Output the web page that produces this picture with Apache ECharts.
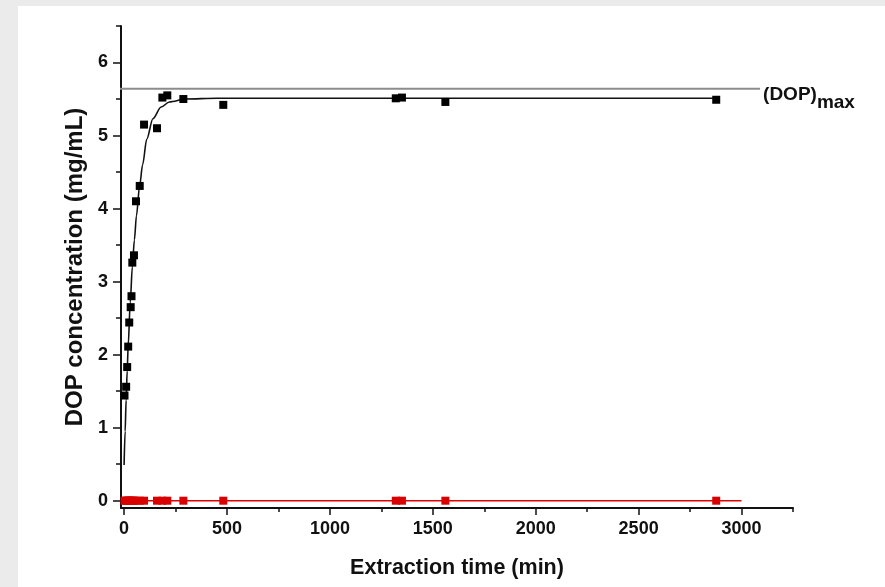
<!DOCTYPE html>
<html>
<head>
<meta charset="utf-8">
<script src="https://cdn.jsdelivr.net/npm/echarts@6/dist/echarts.min.js"></script>
<style>
  html, body { margin: 0; padding: 0; background: #ebebeb; }
  #panel { position: absolute; left: 18px; top: 6px; width: 867px; height: 581px; background: #ffffff; }
  #chart { position: absolute; left: 0; top: 0; width: 885px; height: 587px; }
</style>
</head>
<body>
<div id="panel"></div>
<div id="chart"></div>
<script>
// Measured DOP concentration (mg/mL) against extraction time (min)
const extractionTime = [2, 10, 15, 20, 25, 32, 36, 40, 48, 58, 76, 97, 160, 186, 210, 288, 482, 1320, 1350, 1561, 2877];
const dopConcentration = [1.44, 1.56, 1.83, 2.11, 2.44, 2.65, 2.80, 3.26, 3.36, 4.10, 4.31, 5.15, 5.10, 5.52, 5.55, 5.50, 5.42, 5.51, 5.52, 5.46, 5.49];
// Blank run measured at the same times
const blankConcentration = [0, 0, 0, 0, 0, 0, 0, 0, 0, 0, 0, 0, 0, 0, 0, 0, 0, 0, 0, 0, 0];
const blankLineTime = [0, 3000];
const blankLineValue = [0, 0];

// Fitted kinetic curve, read point by point
const fitTime = [0, 5, 10, 15, 20, 30, 40, 50, 60, 75, 90, 110, 140, 180, 220, 300, 450, 2880];
const fitValue = [0.49, 0.95, 1.38, 1.78, 2.13, 2.72, 3.2, 3.57, 3.9, 4.3, 4.6, 4.95, 5.23, 5.39, 5.46, 5.5, 5.51, 5.51];

// Saturation level (DOP)max
const dopMax = 5.64;
const dopMaxTime = [-90, 3090];

// Axis ticks
const xMajorTicks = [0, 500, 1000, 1500, 2000, 2500, 3000];
const xMinorTicks = [250, 750, 1250, 1750, 2250, 2750, 3250];
const yMajorTicks = [0, 1, 2, 3, 4, 5, 6];
const yMinorTicks = [0.5, 1.5, 2.5, 3.5, 4.5, 5.5, 6.5];

const FONT = '"Liberation Sans", Arial, Helvetica, sans-serif';
const zip = (xs, ys) => xs.map((x, i) => [x, ys[i]]);
const plain = (v) => String(v);

const axisLineStyle = { show: true, onZero: false, lineStyle: { color: '#111', width: 2 } };
const tickLabel = { fontFamily: FONT, fontWeight: 'bold', fontSize: 18, color: '#111' };

const chart = echarts.init(document.getElementById('chart'), null, { renderer: 'canvas' });
chart.setOption({
  backgroundColor: 'transparent',
  animation: false,
  grid: { left: 121, right: 92, top: 26, bottom: 79, containLabel: false },
  xAxis: [
    {
      type: 'value', min: -15, max: 3250, position: 'bottom',
      name: 'Extraction time (min)', nameLocation: 'middle', nameGap: 49,
      nameTextStyle: { fontFamily: FONT, fontWeight: 'bold', fontSize: 21.5, color: '#111' },
      axisLine: axisLineStyle,
      axisTick: { show: true, customValues: xMajorTicks, length: 7, lineStyle: { color: '#111', width: 1.5 } },
      axisLabel: Object.assign({ show: true, customValues: xMajorTicks, margin: 12, formatter: plain }, tickLabel),
      splitLine: { show: false }
    },
    {
      type: 'value', min: -15, max: 3250, position: 'bottom',
      axisLine: { show: false, onZero: false },
      axisTick: { show: true, customValues: xMinorTicks, length: 4, lineStyle: { color: '#111', width: 1.5 } },
      axisLabel: { show: false },
      splitLine: { show: false }
    }
  ],
  yAxis: [
    {
      type: 'value', min: -0.1, max: 6.5, position: 'left',
      name: 'DOP concentration (mg/mL)', nameLocation: 'middle', nameGap: 31,
      nameTextStyle: { fontFamily: FONT, fontWeight: 'bold', fontSize: 24, color: '#111' },
      axisLine: axisLineStyle,
      axisTick: { show: true, customValues: yMajorTicks, length: 8, lineStyle: { color: '#111', width: 1.5 } },
      axisLabel: Object.assign({ show: true, customValues: yMajorTicks, margin: 13, formatter: plain }, tickLabel),
      splitLine: { show: false }
    },
    {
      type: 'value', min: -0.1, max: 6.5, position: 'left',
      axisLine: { show: false, onZero: false },
      axisTick: { show: true, customValues: yMinorTicks, length: 5, lineStyle: { color: '#111', width: 1.5 } },
      axisLabel: { show: false },
      splitLine: { show: false }
    }
  ],
  series: [
    {
      name: '(DOP)max', type: 'line', clip: false, silent: true,
      data: zip(dopMaxTime, [dopMax, dopMax]),
      symbol: 'none',
      lineStyle: { color: '#8c8c8c', width: 2 },
      endLabel: {
        show: true, distance: 3, offset: [0, 10],
        formatter: '{a|(DOP)}{b|max}',
        rich: {
          a: { fontFamily: FONT, fontWeight: 'bold', fontSize: 19, color: '#111', verticalAlign: 'top' },
          b: { fontFamily: FONT, fontWeight: 'bold', fontSize: 19, color: '#111', padding: [8, 0, 0, 0], verticalAlign: 'bottom' }
        }
      },
      z: 1
    },
    {
      name: 'fit', type: 'line', smooth: 0.3, smoothMonotone: 'x',
      data: zip(fitTime, fitValue),
      symbol: 'none',
      lineStyle: { color: '#111', width: 1.6 },
      z: 2
    },
    {
      name: 'blank line', type: 'line',
      data: zip(blankLineTime, blankLineValue),
      symbol: 'none',
      lineStyle: { color: '#e00000', width: 1.6 },
      z: 2
    },
    {
      name: 'DOP', type: 'scatter',
      data: zip(extractionTime, dopConcentration),
      symbol: 'rect', symbolSize: 8,
      itemStyle: { color: '#000', opacity: 1 },
      z: 3
    },
    {
      name: 'blank', type: 'scatter',
      data: zip(extractionTime, blankConcentration),
      symbol: 'rect', symbolSize: 8,
      itemStyle: { color: '#d80000', opacity: 1 },
      z: 3
    }
  ]
});
</script>
</body>
</html>
